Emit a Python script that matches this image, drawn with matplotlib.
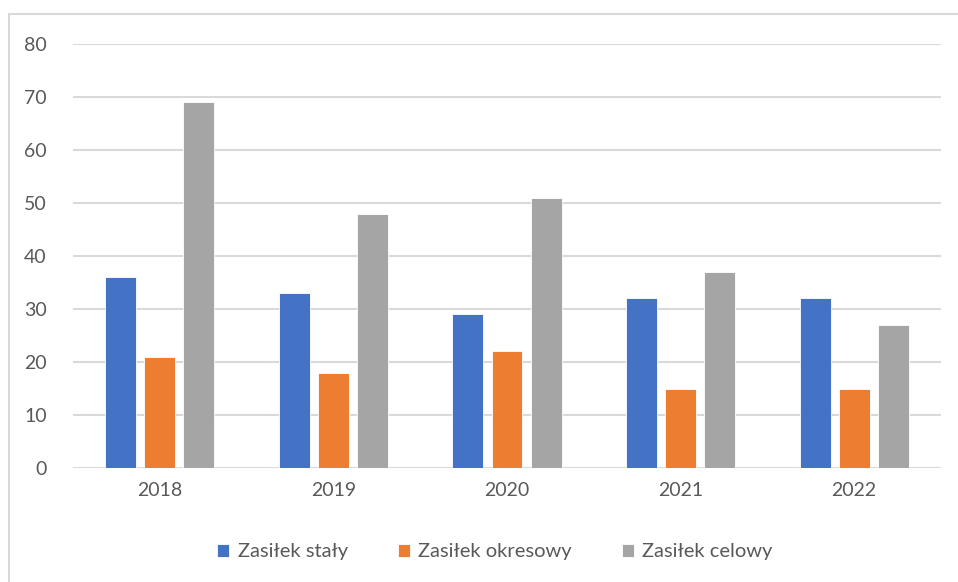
import matplotlib
matplotlib.use("Agg")
import matplotlib.pyplot as plt
import numpy as np
from matplotlib.patches import Rectangle

plt.rcParams['font.family'] = ['Lato', 'DejaVu Sans']

years = ["2018", "2019", "2020", "2021", "2022"]
staly = [36, 33, 29, 32, 32]
okresowy = [21, 18, 22, 15, 15]
celowy = [69, 48, 51, 37, 27]
series_names = ["Zasiłek stały", "Zasiłek okresowy", "Zasiłek celowy"]
colors = ["#4472C4", "#ED7D31", "#A5A5A5"]
yticks = [0, 10, 20, 30, 40, 50, 60, 70, 80]

fig = plt.figure(figsize=(9.58, 5.82), dpi=100)
ax = fig.add_axes([73/958, 1-468/582, (941-73)/958, (468-44)/582])

x = np.arange(len(years))
w = 0.178
step = 0.225
for i, (vals, name, c) in enumerate(zip([staly, okresowy, celowy], series_names, colors)):
    ax.bar(x + (i-1)*step, vals, width=w, color=c, label=name, zorder=3,
           edgecolor='white', linewidth=0.6)

ax.set_xlim(-0.5, len(years)-0.5)
ax.set_ylim(0, 80)
ax.set_yticks(yticks)
ax.set_xticks(x)
ax.set_xticklabels(years)
ax.yaxis.grid(True, color='#D9D9D9', linewidth=1.5, zorder=0)
ax.set_axisbelow(True)
for s in ax.spines.values():
    s.set_visible(False)
ax.tick_params(axis='both', length=0, labelsize=14, colors='#595959')
ax.tick_params(axis='y', pad=19)
ax.tick_params(axis='x', pad=10)

leg = fig.legend(loc='center', bbox_to_anchor=(495/958, 1-552/582), ncol=3,
                 frameon=False, fontsize=14.5, handlelength=0.6, handleheight=0.6,
                 handletextpad=0.4, columnspacing=2.5)
for t in leg.get_texts():
    t.set_color('#595959')

fig.patches.append(Rectangle((9/958, -0.05), 1.0, 1-14/582+0.05, transform=fig.transFigure,
                             fill=False, edgecolor='#D9D9D9', linewidth=1.5, clip_on=False))

fig.savefig("out.png", dpi=100)
